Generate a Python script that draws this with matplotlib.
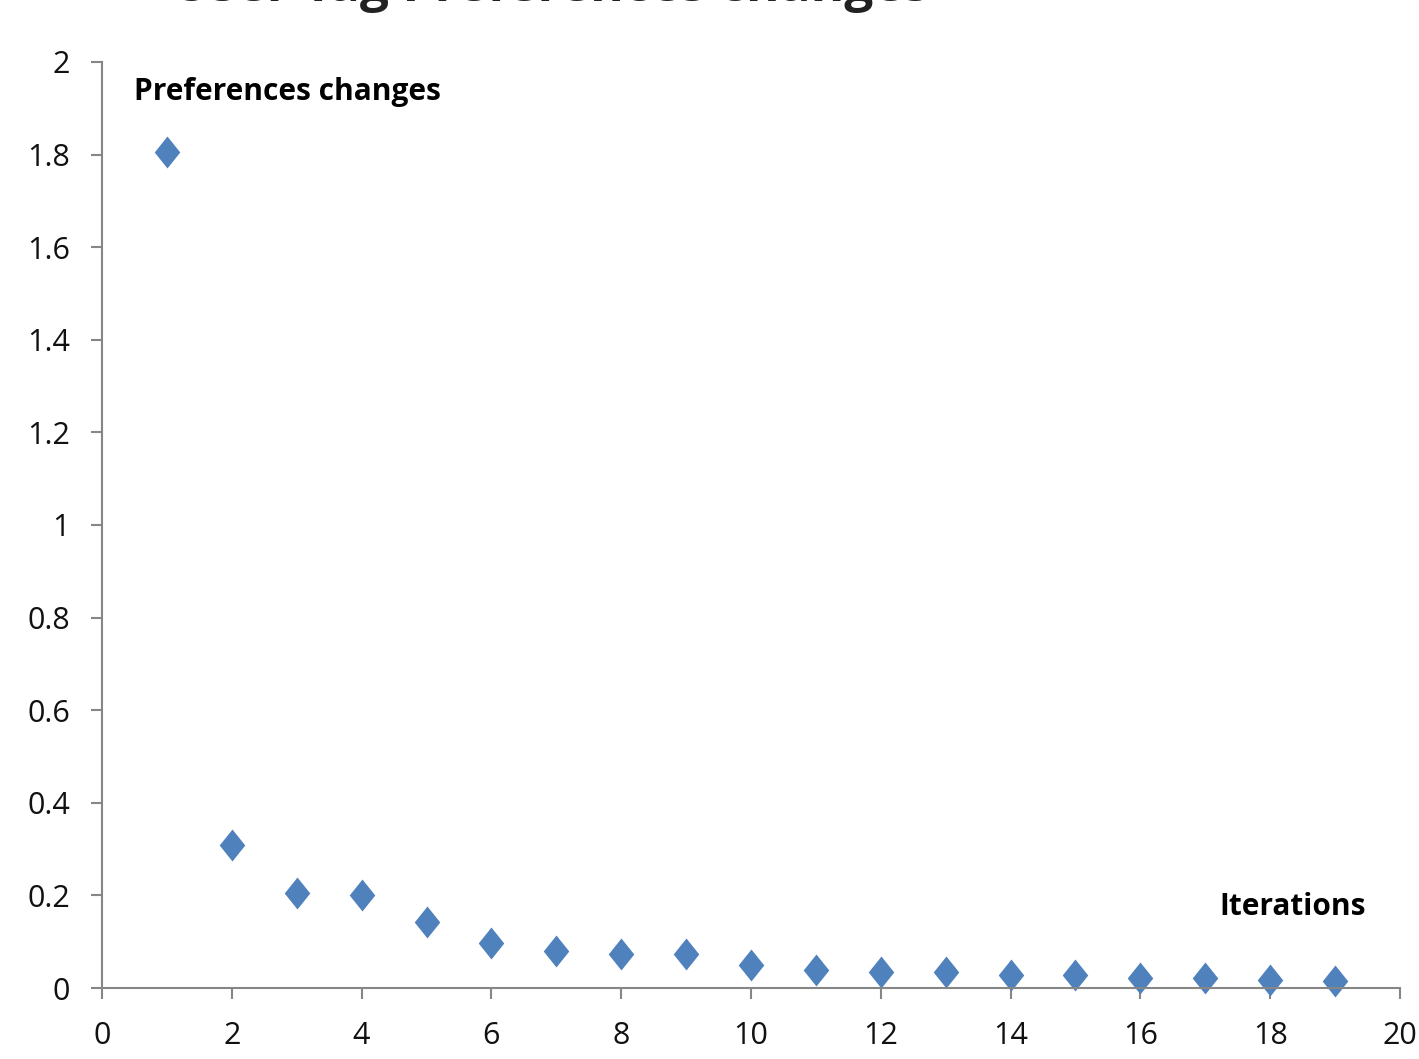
import matplotlib

matplotlib.use("Agg")
import matplotlib.pyplot as plt
import numpy as np

iterations = list(range(1, 20))
pref_changes = [1.806, 0.309, 0.205, 0.201, 0.143, 0.097, 0.080, 0.073, 0.073,
                0.050, 0.039, 0.035, 0.035, 0.028, 0.028, 0.022, 0.022, 0.017, 0.015]
x_ticks = list(range(0, 21, 2))
y_ticks = [0, 0.2, 0.4, 0.6, 0.8, 1, 1.2, 1.4, 1.6, 1.8, 2]
y_tick_labels = ["0", "0.2", "0.4", "0.6", "0.8", "1", "1.2", "1.4", "1.6", "1.8", "2"]

BLUE = "#4F81BD"
AXIS_GREY = "#868686"

plt.rcParams["font.family"] = ["Open Sans", "DejaVu Sans"]

fig = plt.figure(figsize=(14.19, 10.59), dpi=100, facecolor="white")
ax = fig.add_axes([0.0719, 0.0670, 0.9147, 0.8745])

# slightly tall diamond like the Excel marker
diamond = np.array([[0, 1], [0.8, 0], [0, -1], [-0.8, 0], [0, 1]])
ax.plot(iterations, pref_changes, linestyle="none", marker=diamond,
        markersize=23, color=BLUE, markeredgewidth=0, clip_on=False)

ax.set_xlim(0, 20)
ax.set_ylim(0, 2)
ax.set_xticks(x_ticks)
ax.set_yticks(y_ticks)
ax.set_yticklabels(y_tick_labels)

for side in ("top", "right"):
    ax.spines[side].set_visible(False)
for side in ("left", "bottom"):
    ax.spines[side].set_color(AXIS_GREY)
    ax.spines[side].set_linewidth(1.5)

ax.tick_params(axis="both", direction="out", length=8, width=1.5,
               color=AXIS_GREY, labelsize=22, labelcolor="#111111")
ax.tick_params(axis="x", pad=16)
ax.tick_params(axis="y", pad=15)

ax.text(0.025, 0.968, "Preferences changes", transform=ax.transAxes,
        fontsize=21.5, fontweight="bold", ha="left", va="center")
ax.text(0.974, 0.087, "Iterations", transform=ax.transAxes,
        fontsize=21.5, fontweight="bold", ha="right", va="center")

# title mostly cut off at the top edge of the image
fig.text(0.388, 1 - 1 / 1059, "User Tag Preferences changes", fontsize=37,
         fontweight="bold", ha="center", va="baseline", color="#222222")

fig.savefig("out.png", dpi=100, facecolor="white")
